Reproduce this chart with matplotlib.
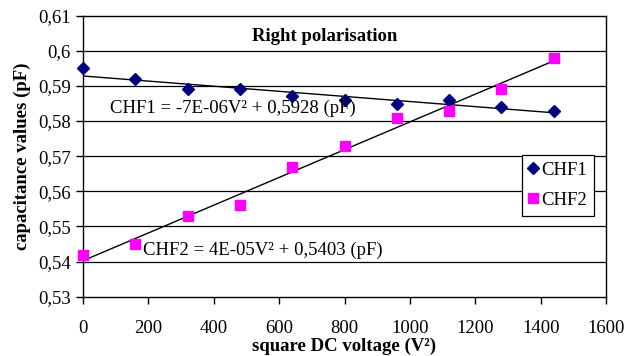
import matplotlib.pyplot as plt
import numpy as np

plt.rcParams['font.family'] = ['Liberation Serif', 'DejaVu Serif']

v2 = [0, 160, 320, 480, 640, 800, 960, 1120, 1280, 1440]
chf1 = [0.595, 0.592, 0.589, 0.589, 0.587, 0.586, 0.585, 0.586, 0.584, 0.583]
chf2 = [0.542, 0.545, 0.553, 0.556, 0.567, 0.573, 0.581, 0.583, 0.589, 0.598]
yticks = [0.53, 0.54, 0.55, 0.56, 0.57, 0.58, 0.59, 0.60, 0.61]
ytick_labels = ['0,53', '0,54', '0,55', '0,56', '0,57', '0,58', '0,59', '0,6', '0,61']
xticks = [0, 200, 400, 600, 800, 1000, 1200, 1400, 1600]

fs = 13.5
fig = plt.figure(figsize=(6.39, 3.56), dpi=100)
ax = fig.add_axes([0.13, 0.1666, 0.8184, 0.7893])

for y in yticks[1:-1]:
    ax.axhline(y, color='black', lw=0.9, zorder=1)

x = np.array(v2, dtype=float)
p1 = np.polyfit(x, chf1, 1)
p2 = np.polyfit(x, chf2, 1)
xl = np.array([x[0], x[-1]])
ax.plot(xl, np.polyval(p1, xl), color='black', lw=1, zorder=2)
ax.plot(xl, np.polyval(p2, xl), color='black', lw=1, zorder=2)

ax.plot(v2, chf1, linestyle='none', marker='D', ms=6.5, color='#000080', label='CHF1', zorder=3, clip_on=False)
ax.plot(v2, chf2, linestyle='none', marker='s', ms=7.5, color='#FF00FF', label='CHF2', zorder=3, clip_on=False)

ax.set_xlim(0, 1600)
ax.set_ylim(0.53, 0.61)
ax.set_xticks(xticks)
ax.set_yticks(yticks)
ax.set_yticklabels(ytick_labels)
ax.tick_params(direction='out', length=5, width=1, labelsize=fs, pad=4)
ax.tick_params(axis='x', pad=12)
for s in ax.spines.values():
    s.set_linewidth(1)

ax.set_xlabel('square DC voltage (V²)', fontsize=fs, fontweight='bold', labelpad=0)
ax.set_ylabel('capacitance values (pF)', fontsize=fs, fontweight='bold', labelpad=5)

ax.text(740, 0.6042, 'Right polarisation', fontsize=fs, fontweight='bold', ha='center', va='center')
ax.text(83, 0.5836, 'CHF1 = -7E-06V² + 0,5928 (pF)', fontsize=fs, ha='left', va='center')
ax.text(183, 0.5433, 'CHF2 = 4E-05V² + 0,5403 (pF)', fontsize=fs, ha='left', va='center')

leg = ax.legend(loc='upper left', bbox_to_anchor=(0.839, 0.504), fontsize=fs, frameon=True,
                fancybox=False, edgecolor='black', handlelength=0.5, handletextpad=0.2,
                borderpad=0.35, labelspacing=0.7, borderaxespad=0, framealpha=1)
leg.get_frame().set_linewidth(0.9)

fig.savefig('out.png', dpi=100)
